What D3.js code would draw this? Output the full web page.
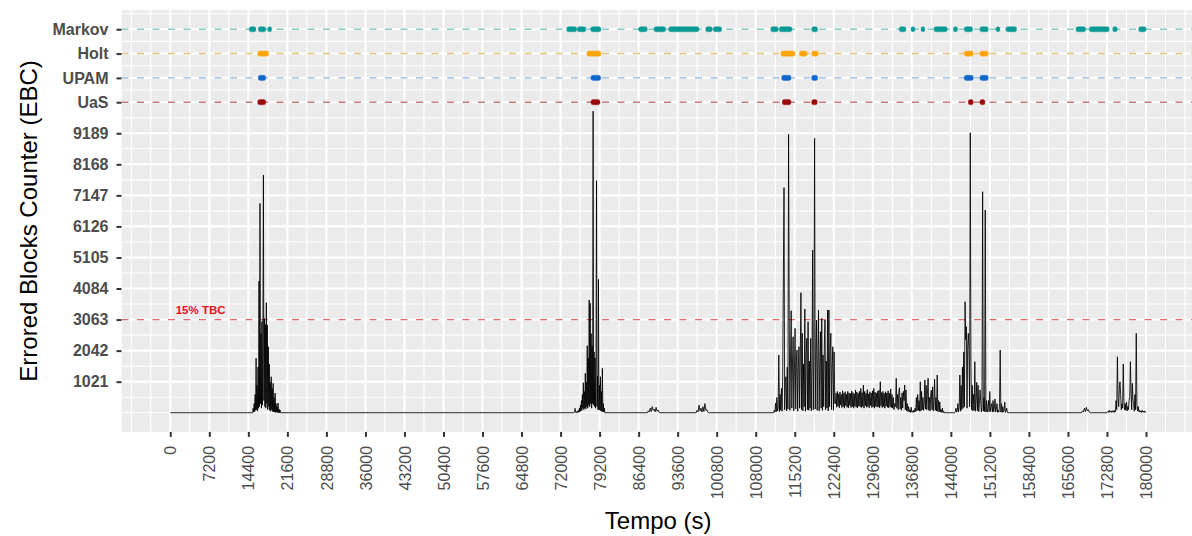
<!DOCTYPE html>
<html lang="en">
<head>
<meta charset="UTF-8">
<title>Errored Blocks Counter</title>
<script src="https://d3js.org/d3.v7.min.js"></script>
<style>
  body { margin: 0; background: #fff; }
  text { font-family: "Liberation Sans", Arial, sans-serif; }
</style>
</head>
<body>
<script>

// eixo x (tempo em segundos)
var xTicks = [0, 7200, 14400, 21600, 28800, 36000, 43200, 50400, 57600, 64800, 72000, 79200, 86400,
              93600, 100800, 108000, 115200, 122400, 129600, 136800, 144000, 151200, 158400, 165600,
              172800, 180000];
// eixo y (EBC) e linhas dos modelos
var yTicks = [1021, 2042, 3063, 4084, 5105, 6126, 7147, 8168, 9189];
var categories = ['UaS', 'UPAM', 'Holt', 'Markov'];
var categoryLevel = [10210, 11010, 11810, 12610];
var tbcLimit = 3063;
var tbcLabel = '15% TBC';

// periodos de alarme de cada modelo [inicio, fim] em segundos
var markovPeriods = [[14573, 15809], [16233, 17598], [17967, 18705], [73124, 74969], [75079, 76684],
    [77551, 79451], [86405, 87991], [89229, 91387], [91940, 97530], [98766, 99983], [100168, 101717],
    [110756, 112158], [112342, 114686], [118319, 119426], [134479, 135715], [136637, 137375],
    [138482, 139220], [140880, 143333], [144440, 145252], [146469, 148019], [149365, 150896],
    [152319, 153057], [154164, 156138], [167077, 168866], [169530, 173220], [173847, 174696],
    [178643, 180000]];
var holtPeriods = [[16123, 18152], [76868, 79451], [112655, 115238], [116031, 117507], [118319, 119536],
    [146469, 148129], [149365, 150896]];
var upamPeriods = [[16233, 17598], [77607, 79396], [112784, 114501], [118319, 119426],
    [146469, 148129], [149365, 150896]];
var uasPeriods = [[16123, 17598], [77607, 79267], [112895, 114501], [118319, 119352],
    [147207, 148129], [149365, 150287]];

// serie EBC: rajadas (inicio, passo em s, valores)
var burstA = [0,150,20,300,40,600,80,1790,100,900,60,1500,150,4330,200,6885,300,2600,150,3000,250,2800,7816,
    400,3100,200,2900,150,3617,300,2884,100,2170,200,1600,80,1000,50,1184,100,800,40,967,30,500,20,648,10,
    300,20,200,10,319,0,120,0,90,0];
var burstB = [0,0,40,144,20,0,30,0,60,10,80,20,150,30,250,60,400,80,600,150,987,100,700,150,1295,120,1000,
    200,2203,150,1800,250,3705,200,3600,300,2600,150,2200,300,9918,250,2000,200,1800,150,1500,7629,200,1200,
    100,4386,100,900,80,1184,60,700,40,1460,30,300,20,150,0];
var burstC = [0,60,20,150,40,200,80,120,30,180,50,90,20,0];
var burstD = [0,80,30,250,60,150,20,200,40,300,80,100,20,0];
var burstE = [0,80,20,319,30,500,60,150,1897,40,600,80,800,50,1200,4495,7398,100,1000,1184,60,1500,120,9153,
    3104,80,1800,3354,150,1600,2499,60,1400,2775,120,1700,2062,50,1500,2170,150,1800,3946,100,2611,60,1600,
    200,3410,50,1900,2446,100,2992,80,1700,150,2446,60,1500,5350,100,1800,9022,120,2000,3048,80,1800,3377,
    60,1600,2663,150,3104,80,1900,200,2200,3048,100,1700,150,3377,60,3377,200,2000,2611,100,1500,2170,80,
    2000,300];
var plateau = [300,650,180,700,220,620,160,680,250,600,170,720,200,640,150,690,230,610,180,700,160,650,240,
    630,170,710,200,660,150,620,210,750,180,680,160,640,220,700,190,800,170,660,200,911,150,700,230,640,180,
    760,200,620,160,690,240,650,170,720,190,800,150,680,210,640,180,710,200,740,160,1019,230,660,170,700,200,
    630,150,690,220,650,180,720,160,640,200,780,170,600,150,500,100,300];
var burstETail = [200,1131,150,600,100,700,822,120,500,80,650,150,700,400,911,100,750,60,300,40,200,20,100,
    10,180,20,60,10,80,20,150,40,500,60,600,80,400,50,1019,60,700,100,500,80,300,1075,120,900,100,600,1131,
    80,500,60,600,746,100,850,60,400,1098,80,500,60,1240,40,400,30,350,20,100,10,150,0,50,0];
var burstF = [0,40,150,20,60,300,30,200,1240,50,900,100,1500,150,2000,200,3650,2400,2828,150,2200,2611,2000,
    200,9206,1500,100,900,60,600,80,1677,50,400,1000,60,900,40,300,750,400,30,200,7267,50,500,40,6665,30,
    400,20,150,400,30,700,40,200,300,20,400,30,150,450,20,100,300,10,80,20,300,2062,20,300,10,200,20,80,350,
    10,60,150,10,0];
var burstG0 = [0,60,20,150,40,176,60,100,20,0];
var burstG = [0,30,60,10,80,20,50,10,70,20,60,10,80,30,400,100,1842,500,200,800,1019,600,100,300,150,1601,
    400,100,300,80,350,60,200,100,400,526,1677,700,100,967,400,300,50,600,100,2611,300,60,200,30,80,20,60,
    10,80,20,50,10,60,20,0];

var burstStart = [15200, 74400, 88000, 97000, 111300, 122700, 133800, 144700, 168100, 172800];
var burstStep = [90, 90, 180, 180, 120, 120, 120, 120, 180, 120];
var bursts = [burstA, burstB, burstC, burstD, burstE, plateau, burstETail, burstF, burstG0, burstG];

var colors = ['#9B0A0A', '#1068CC', '#FFA50A', '#0A9A96'];
var lineColors = ['#C47A7A', '#8FB7DA', '#E3C57E', '#86CBC8'];
var periods = [uasPeriods, upamPeriods, holtPeriods, markovPeriods];

var W = 1192, H = 536;
var pl = 121.5, pr = 1194.8, pt = 10.05, pb = 431.9;

var x = d3.scaleLinear().domain([-9000, 189000]).range([pl, pr]);
var y = d3.scaleLinear().domain([-630.5, 13240.5]).range([pb, pt]);

var svg = d3.select('body').append('svg')
    .attr('width', W)
    .attr('height', H);

svg.append('defs').append('clipPath').attr('id', 'clip')
    .append('rect').attr('x', pl).attr('y', pt).attr('width', pr - pl).attr('height', pb - pt);

var panel = svg.append('g').attr('clip-path', 'url(#clip)');
panel.append('rect')
    .attr('x', pl).attr('y', pt)
    .attr('width', pr - pl).attr('height', pb - pt)
    .attr('fill', '#EBEBEB');

// grades menores (pontos medios entre quebras)
var yMajor = yTicks.concat(categoryLevel);
var xb = [xTicks[0] - 7200].concat(xTicks, [xTicks[xTicks.length - 1] + 7200]);
var yb = [0].concat(yMajor, [yMajor[yMajor.length - 1] + 1021]);
function minorOf(b, major) {
    var m = [];
    for (var i = 0; i < b.length - 1; i++) {
        m.push(b[i]);
        m.push((b[i] + b[i + 1]) / 2);
    }
    m.push(b[b.length - 1]);
    return m.filter(function(v) { return major.indexOf(v) < 0; });
}
var xMinor = minorOf(xb, xTicks);
var yMinor = minorOf(yb, yMajor);

panel.selectAll('.xminor').data(xMinor).enter().append('line')
    .attr('x1', function(d) { return x(d); }).attr('x2', function(d) { return x(d); })
    .attr('y1', pt).attr('y2', pb)
    .attr('stroke', '#fff').attr('stroke-width', 1.1);
panel.selectAll('.yminor').data(yMinor).enter().append('line')
    .attr('x1', pl).attr('x2', pr)
    .attr('y1', function(d) { return y(d); }).attr('y2', function(d) { return y(d); })
    .attr('stroke', '#fff').attr('stroke-width', 1.1);
panel.selectAll('.xmajor').data(xTicks).enter().append('line')
    .attr('x1', function(d) { return x(d); }).attr('x2', function(d) { return x(d); })
    .attr('y1', pt).attr('y2', pb)
    .attr('stroke', '#fff').attr('stroke-width', 2.1);
panel.selectAll('.ymajor').data(yMajor).enter().append('line')
    .attr('x1', pl).attr('x2', pr)
    .attr('y1', function(d) { return y(d); }).attr('y2', function(d) { return y(d); })
    .attr('stroke', '#fff').attr('stroke-width', 2.1);

// linhas tracejadas dos modelos e do limite
panel.selectAll('.catline').data(categoryLevel).enter().append('line')
    .attr('x1', pl).attr('x2', pr)
    .attr('y1', function(d) { return y(d); }).attr('y2', function(d) { return y(d); })
    .attr('stroke', function(d, i) { return lineColors[i]; })
    .attr('stroke-width', 1.4)
    .attr('stroke-dasharray', '7,8.5');

panel.append('line')
    .attr('x1', pl).attr('x2', pr)
    .attr('y1', y(tbcLimit)).attr('y2', y(tbcLimit))
    .attr('stroke', '#E26A6A')
    .attr('stroke-width', 1.2)
    .attr('stroke-dasharray', '7,8.5');

// periodos de alarme
categories.forEach(function(c, k) {
    panel.selectAll('.seg' + k).data(periods[k]).enter().append('rect')
        .attr('x', function(d) { return x(d[0]); })
        .attr('width', function(d) { return x(d[1]) - x(d[0]); })
        .attr('y', y(categoryLevel[k]) - 2.6)
        .attr('height', 5.2)
        .attr('rx', 2).attr('ry', 2)
        .attr('fill', colors[k])
        .attr('stroke', colors[k])
        .attr('stroke-opacity', 0.35)
        .attr('stroke-width', 1);
});

// serie EBC
var points = [[0, 0]];
bursts.forEach(function(vals, k) {
    vals.forEach(function(v, i) {
        points.push([burstStart[k] + i * burstStep[k], v]);
    });
});
points.push([180000, 0]);

var line = d3.line()
    .x(function(d) { return x(d[0]); })
    .y(function(d) { return y(d[1]); });

panel.append('path')
    .datum(points)
    .attr('d', line)
    .attr('fill', 'none')
    .attr('stroke', '#000')
    .attr('stroke-width', 0.9)
    .attr('stroke-linejoin', 'miter')
    .attr('stroke-miterlimit', 2)
    .attr('stroke-opacity', 0.95);

panel.append('text')
    .attr('x', x(1000))
    .attr('y', y(tbcLimit) - 5.5)
    .attr('fill', '#E8101A')
    .style('font-size', '11.5px')
    .style('font-weight', 'bold')
    .text(tbcLabel);

// eixos
var yAxis = d3.axisLeft(y)
    .tickValues(yMajor)
    .tickSize(5)
    .tickPadding(8)
    .tickFormat(function(d) {
        var i = categoryLevel.indexOf(d);
        return i >= 0 ? categories[i] : d;
    });
var gy = svg.append('g').attr('transform', 'translate(' + pl + ',0)').call(yAxis);
gy.select('.domain').remove();
gy.selectAll('.tick line').attr('stroke', '#333').attr('stroke-width', 2);
gy.selectAll('.tick text')
    .attr('fill', '#4D4D4D')
    .style('font-size', '16px')
    .style('font-weight', 'bold');

var xAxis = d3.axisBottom(x)
    .tickValues(xTicks)
    .tickSize(5)
    .tickFormat(function(d) { return d; });
var gx = svg.append('g').attr('transform', 'translate(0,' + pb + ')').call(xAxis);
gx.select('.domain').remove();
gx.selectAll('.tick line').attr('stroke', '#333').attr('stroke-width', 2);
gx.selectAll('.tick text')
    .attr('fill', '#4D4D4D')
    .attr('transform', 'rotate(-90)')
    .attr('text-anchor', 'end')
    .attr('x', -14)
    .attr('y', 0)
    .attr('dy', '0.35em')
    .style('font-size', '16px');

svg.append('text')
    .attr('x', (pl + pr) / 2)
    .attr('y', 529)
    .attr('text-anchor', 'middle')
    .style('font-size', '24px')
    .text('Tempo (s)');

svg.append('text')
    .attr('transform', 'translate(37,' + (pt + pb) / 2 + ') rotate(-90)')
    .attr('text-anchor', 'middle')
    .style('font-size', '24px')
    .text('Errored Blocks Counter (EBC)');

</script>
</body>
</html>
